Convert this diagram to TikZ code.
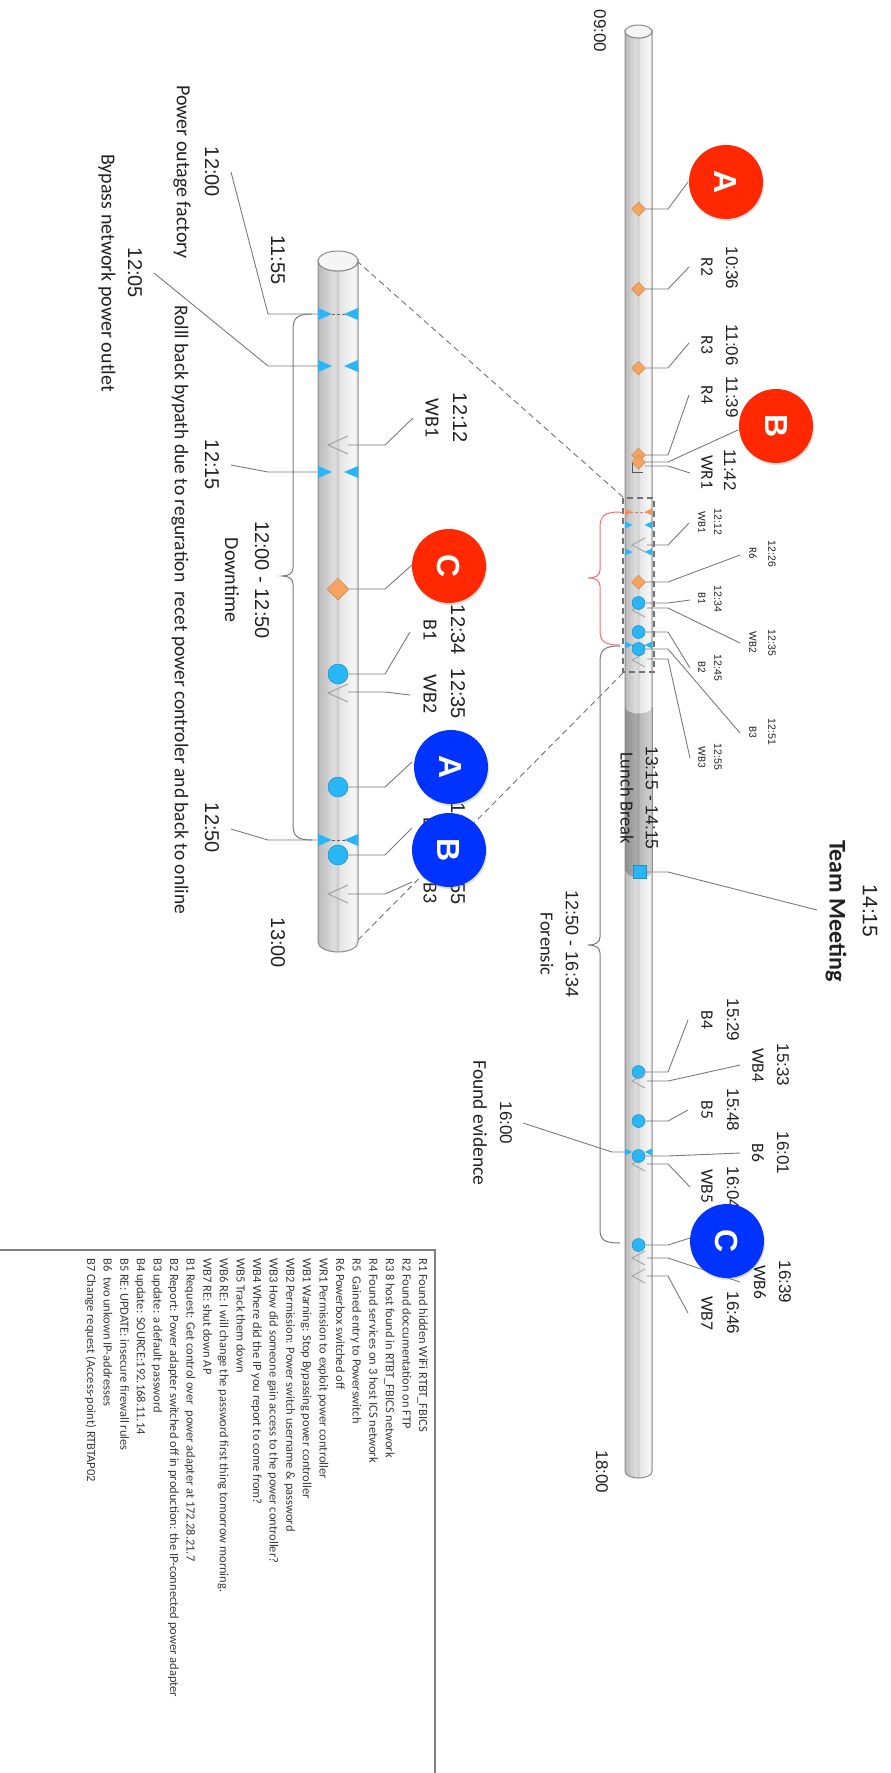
\documentclass[tikz,border=0pt]{standalone}
\usepackage{fontspec}
\setmainfont{Carlito}
\newfontfamily\tmfont{Liberation Sans}
\usetikzlibrary{shapes.geometric,shadows}
\newcommand\fsz[1]{\fontsize{#1}{#1}\selectfont}
\definecolor{ink}{HTML}{222222}
\definecolor{legendink}{HTML}{3A3A3A}
\definecolor{wiregray}{HTML}{7A7A7A}
\definecolor{redmark}{RGB}{255,40,0}
\definecolor{bluemark}{RGB}{0,51,255}
\definecolor{dotc}{HTML}{29B6F6}
\definecolor{dotedge}{HTML}{1C8FC8}
\definecolor{dia}{HTML}{F4A460}
\definecolor{diaedge}{HTML}{C98545}
\definecolor{bracered}{HTML}{FF6B6B}
\definecolor{tubeedge}{HTML}{8C8C8C}
\definecolor{veec}{HTML}{A3A3A3}
\definecolor{boxgray}{HTML}{808080}
\pgfdeclarehorizontalshading{tube}{100bp}{color(0bp)=(black!27); color(25bp)=(black!27); color(45bp)=(black!13); color(50bp)=(black!19); color(52bp)=(black!10); color(70bp)=(black!3); color(75bp)=(black!12); color(100bp)=(black!12)}
\pgfdeclarehorizontalshading{tubedark}{100bp}{color(0bp)=(black!44); color(25bp)=(black!44); color(45bp)=(black!33); color(50bp)=(black!38); color(52bp)=(black!28); color(70bp)=(black!19); color(75bp)=(black!27); color(100bp)=(black!27)}
\pgfdeclarelayer{tube}
\pgfdeclarelayer{wires}
\pgfsetlayers{tube,wires,main}
\begin{document}
\begin{tikzpicture}[x=1pt,y=-1pt,
  wire/.style={draw=wiregray, line width=0.9pt},
  txt/.style={rotate=-90, inner sep=0pt, text=ink},
  tmM/.style={txt, font=\tmfont\fsz{17}},
  lbM/.style={txt, font=\fsz{17.5}},
  tmT/.style={txt, font=\tmfont\fsz{10.5}},
  lbT/.style={txt, font=\fsz{11}},
  tmS/.style={txt, font=\tmfont\fsz{20}},
  lbS/.style={txt, font=\fsz{20}},
  dotM/.style={circle, fill=dotc, draw=dotedge, line width=0.5pt, inner sep=0pt, minimum size=13pt},
  dotS/.style={dotM, minimum size=20pt},
  diaM/.style={diamond, aspect=1, fill=dia, draw=diaedge, line width=0.5pt, inner sep=0pt, minimum width=14pt, minimum height=14pt},
  diaS/.style={diaM, minimum width=22pt, minimum height=22pt},
  bigc/.style={circle, inner sep=0pt, minimum size=74pt, rotate=-90, font=\tmfont\bfseries\fsz{32}, text=white,
    drop shadow={opacity=0.25, shadow xshift=1pt, shadow yshift=-2pt}},
  redc/.style={bigc, fill=redmark},
  bluec/.style={bigc, fill=bluemark},
  veeM/.pic={\draw[veec, line width=0.9pt] (13,-7) -- (0,0) -- (13,7);},
  veeS/.pic={\draw[veec, line width=1pt] (20,-9) -- (0,0) -- (20,9);},
  triM/.pic={\fill[dotc] (-13.5,-3.5) -- (-6,0) -- (-13.5,3.5) -- cycle;
             \fill[dotc] (13.5,-3.5) -- (6,0) -- (13.5,3.5) -- cycle;},
  triMo/.pic={\fill[dia!90!red] (-13.5,-3.5) -- (-6,0) -- (-13.5,3.5) -- cycle;
             \fill[dia!90!red] (13.5,-3.5) -- (6,0) -- (13.5,3.5) -- cycle;},
  triS/.pic={\fill[dotc] (-20,-6) -- (-6,0) -- (-20,6) -- cycle;
             \fill[dotc] (20,-6) -- (6,0) -- (20,6) -- cycle;},
]
\useasboundingbox (0,0) rectangle (891,1773);

% ---------------- tubes ----------------
\begin{pgfonlayer}{tube}
  % main day tube
  \draw[shading=tube, draw=tubeedge, line width=1pt] (625,31.5) -- (625,1471.5)
     arc[start angle=180,end angle=0,x radius=13.5,y radius=6.5] -- (652,31.5)
     arc[start angle=0,end angle=180,x radius=13.5,y radius=6.5] -- cycle;
  \draw[fill=black!4, draw=tubeedge, line width=1pt] (638.5,31.5) ellipse[x radius=13.5,y radius=6.5];
  % lunch segment
  \path[shading=tubedark] (625,707) -- (625,871)
     arc[start angle=180,end angle=0,x radius=13.5,y radius=6.5] -- (652,707)
     arc[start angle=0,end angle=180,x radius=13.5,y radius=6.5] -- cycle;
  \draw[tubeedge, line width=1pt] (625,707) -- (625,871) (652,707) -- (652,871);
  \draw[black!22, line width=0.8pt] (625,871) arc[start angle=180,end angle=0,x radius=13.5,y radius=6.5];
  % zoomed tube 11:55 - 13:00
  \draw[shading=tube, draw=tubeedge, line width=1pt] (318,261) -- (318,942)
     arc[start angle=180,end angle=0,x radius=20,y radius=10] -- (358,261)
     arc[start angle=0,end angle=180,x radius=20,y radius=10] -- cycle;
  \draw[fill=black!4, draw=tubeedge, line width=1pt] (338,261) ellipse[x radius=20,y radius=10];
\end{pgfonlayer}

% zoom frame and its projection lines
\draw[black!55, line width=1.1pt, dash pattern=on 6pt off 4pt] (623,498) rectangle (654,672);
\coordinate (zTL) at (623,497);
\coordinate (zBL) at (623,673);
\coordinate (sTR) at (358,262);
\coordinate (sBR) at (358,940);
\draw[black!55, line width=0.9pt, dash pattern=on 6pt off 4pt] (zTL) -- (sTR);
\draw[black!55, line width=0.9pt, dash pattern=on 6pt off 4pt] (zBL) -- (sBR);

% elbow columns
\coordinate (kM) at (668,0);
\coordinate (kML) at (612,0);
\coordinate (kS) at (385,0);
\coordinate (kSL) at (268,0);

% ---------------- main tube markers ----------------
\node[diaM] (r1) at (638.5,209) {};
\node[diaM] (r2) at (638.5,289) {};
\node[diaM] (r3) at (638.5,368) {};
\node[diaM] (r4) at (638.5,455) {};
\node[diaM] (r5) at (638.5,462) {};
\draw[ink!75, line width=0.9pt] (632,463) -- (632,472) -- (643,472);
\coordinate (wr1) at (645,466);

\pic at (638.5,512) {triMo};
\draw[bracered, line width=0.9pt, dash pattern=on 3pt off 2pt] (620,512) -- (646,512);
\pic at (638.5,525) {triM};
\pic at (632,545) {veeM};
\coordinate (wb1) at (647,545);
\pic at (638.5,552) {triM};
\node[diaM] (r6) at (638.5,582) {};
\pic at (632,610) {veeM};
\coordinate (wb2) at (647,608);
\node[dotM] (b1) at (638.5,603) {};
\node[dotM] (b2) at (638.5,632) {};
\pic at (638.5,645) {triM};
\draw[ink!70, line width=0.8pt, dash pattern=on 2pt off 2pt] (632,645) -- (645,645);
\pic at (632,660) {veeM};
\coordinate (wb3) at (647,659);
\node[dotM] (b3) at (638.5,649) {};

\node[rectangle, fill=dotc, draw=dotedge, line width=0.5pt, minimum size=13pt, inner sep=0pt] (tmeet) at (639.5,872) {};

\node[dotM] (b4) at (638.5,1072) {};
\pic at (632,1081) {veeM};
\coordinate (wb4) at (647,1081);
\node[dotM] (b5) at (638.5,1121) {};
\pic at (638.5,1152) {triM};
\coordinate (ev) at (627,1152);
\pic at (632,1164) {veeM};
\coordinate (wb5) at (647,1164);
\node[dotM] (b6) at (638.5,1156) {};
\node[dotM] (b7) at (638.5,1245) {};
\pic at (632,1258) {veeM};
\coordinate (wb6) at (647,1258);
\pic at (632,1276) {veeM};
\coordinate (wb7) at (647,1276);

% braces beside the main tube
\draw[bracered, line width=1pt] (620,512) .. controls (604,512) and (600,516) .. (600,528)
   -- (600,570) .. controls (600,575) and (596,578) .. (588,578)
   .. controls (596,578) and (600,581) .. (600,586) -- (600,630)
   .. controls (600,641) and (604,645) .. (620,645);
\draw[wiregray, line width=1pt] (620,646) .. controls (604,646) and (600,650) .. (600,662)
   -- (600,937) .. controls (600,942) and (596,945) .. (588,945)
   .. controls (596,945) and (600,948) .. (600,953) -- (600,1229)
   .. controls (600,1240) and (604,1243) .. (620,1243);

% ---------------- zoomed tube markers ----------------
\pic at (338,314) {triS};
\draw[ink!70, line width=0.9pt, dash pattern=on 3pt off 2pt] (332,314) -- (346,314);
\coordinate (s1200) at (318,314);
\pic at (338,366) {triS};
\coordinate (s1205) at (318,366);
\pic at (328,445) {veeS};
\coordinate (swb1) at (348,445);
\pic at (338,472) {triS};
\coordinate (s1215) at (318,472);
\node[diaS] (sr6) at (338,589) {};
\node[dotS] (sb1) at (338,674) {};
\pic at (328,693) {veeS};
\coordinate (swb2) at (348,692);
\node[dotS] (sb2) at (338,787) {};
\pic at (338,840) {triS};
\draw[ink!70, line width=0.9pt, dash pattern=on 3pt off 2pt] (332,840) -- (346,840);
\coordinate (s1250) at (318,840);
\node[dotS] (sb3) at (338,855) {};
\pic at (328,894) {veeS};
\coordinate (swb3) at (348,894);

\draw[wiregray, line width=1pt] (312,314) .. controls (297,314) and (293,318) .. (293,330)
   -- (293,568) .. controls (293,573) and (289,576) .. (282,576)
   .. controls (289,576) and (293,579) .. (293,584) -- (293,824)
   .. controls (293,836) and (297,840) .. (312,840);

% ---------------- leader ends ----------------
\coordinate (eR1) at (688,182);
\coordinate (eR2) at (689,267);
\coordinate (eR3) at (689,343);
\coordinate (eR4) at (689,395);
\coordinate (eR5) at (738,430);
\coordinate (eWR1) at (690,473);
\coordinate (eWB1) at (689,523);
\coordinate (eR6) at (740,555);
\coordinate (eB1) at (690,600);
\coordinate (eWB2) at (740,643);
\coordinate (eB2) at (690,668);
\coordinate (eB3) at (740,733);
\coordinate (eWB3) at (690,758);
\coordinate (eTM) at (817,910);
\coordinate (eB4) at (688,1020);
\coordinate (eWB4) at (740,1065);
\coordinate (eB5) at (688,1110);
\coordinate (eEv) at (523,1123);
\coordinate (eB6) at (740,1153);
\coordinate (eWB5) at (690,1187);
\coordinate (eB7) at (690,1238);
\coordinate (eWB6) at (740,1282);
\coordinate (eWB7) at (688,1313);
\coordinate (eS1200) at (231,172);
\coordinate (eS1205) at (154,273);
\coordinate (eSWB1) at (413,418);
\coordinate (eS1215) at (231,465);
\coordinate (eSR6) at (412,565);
\coordinate (eSB1) at (410,632);
\coordinate (eSWB2) at (410,695);
\coordinate (eSB2) at (412,762);
\coordinate (eS1250) at (231,829);
\coordinate (eSB3) at (412,828);
\coordinate (eSWB3) at (412,882);

\begin{pgfonlayer}{wires}
  \draw[wire] (r1) -- (r1 -| kM) -- (eR1);
  \draw[wire] (r2) -- (r2 -| kM) -- (eR2);
  \draw[wire] (r3) -- (r3 -| kM) -- (eR3);
  \draw[wire] (r4) -- (r4 -| kM) -- (eR4);
  \draw[wire] (r5) -- (r5 -| kM) -- (eR5);
  \draw[wire] (wr1) -- (wr1 -| kM) -- (eWR1);
  \draw[wire] (wb1) -- (wb1 -| kM) -- (eWB1);
  \draw[wire] (r6) -- (r6 -| kM) -- (eR6);
  \draw[wire] (b1) -- (b1 -| kM) -- (eB1);
  \draw[wire] (wb2) -- (wb2 -| kM) -- (eWB2);
  \draw[wire] (b2) -- (b2 -| kM) -- (eB2);
  \draw[wire] (b3) -- (b3 -| kM) -- (eB3);
  \draw[wire] (wb3) -- (wb3 -| kM) -- (eWB3);
  \draw[wire] (tmeet) -- (tmeet -| kM) -- (eTM);
  \draw[wire] (b4) -- (b4 -| kM) -- (eB4);
  \draw[wire] (wb4) -- (wb4 -| kM) -- (eWB4);
  \draw[wire] (b5) -- (b5 -| kM) -- (eB5);
  \draw[wire] (ev) -- (ev -| kML) -- (eEv);
  \draw[wire] (b6) -- (b6 -| kM) -- (eB6);
  \draw[wire] (wb5) -- (wb5 -| kM) -- (eWB5);
  \draw[wire] (b7) -- (b7 -| kM) -- (eB7);
  \draw[wire] (wb6) -- (wb6 -| kM) -- (eWB6);
  \draw[wire] (wb7) -- (wb7 -| kM) -- (eWB7);
  \draw[wire] (s1200) -- (s1200 -| kSL) -- (eS1200);
  \draw[wire] (s1205) -- (s1205 -| kSL) -- (eS1205);
  \draw[wire] (swb1) -- (swb1 -| kS) -- (eSWB1);
  \draw[wire] (s1215) -- (s1215 -| kSL) -- (eS1215);
  \draw[wire] (sr6) -- (sr6 -| kS) -- (eSR6);
  \draw[wire] (sb1) -- (sb1 -| kS) -- (eSB1);
  \draw[wire] (swb2) -- (swb2 -| kS) -- (eSWB2);
  \draw[wire] (sb2) -- (sb2 -| kS) -- (eSB2);
  \draw[wire] (s1250) -- (s1250 -| kSL) -- (eS1250);
  \draw[wire] (sb3) -- (sb3 -| kS) -- (eSB3);
  \draw[wire] (swb3) -- (swb3 -| kS) -- (eSWB3);
\end{pgfonlayer}

% ---------------- labels, main tube ----------------
\node[tmM] (t0900) at (600,31) {09:00};
\node[tmM] (t1800) at (602,1472) {18:00};
\node[lbM] (lR2) at (707,267) {R2};
\node[tmM] (tR2) at (732,268) {10:36};
\node[lbM] (lR3) at (707,345) {R3};
\node[tmM] (tR3) at (732,345) {11:06};
\node[lbM] (lR4) at (707,395) {R4};
\node[tmM] (tR4) at (732,397) {11:39};
\node[lbM] (lWR1) at (707,472) {WR1};
\node[tmM] (tWR1) at (730,470) {11:42};
\node[lbT] (lWB1) at (702,522) {WB1};
\node[tmT] (tWB1) at (718,522) {12:12};
\node[lbT] (lR6) at (753,553) {R6};
\node[tmT] (tR6) at (772,554) {12:26};
\node[lbT] (lB1) at (702,598) {B1};
\node[tmT] (tB1) at (718,599) {12:34};
\node[lbT] (lWB2) at (753,642) {WB2};
\node[tmT] (tWB2) at (772,643) {12:35};
\node[lbT] (lB2) at (702,667) {B2};
\node[tmT] (tB2) at (718,668) {12:45};
\node[lbT] (lB3) at (753,732) {B3};
\node[tmT] (tB3) at (772,732) {12:51};
\node[lbT] (lWB3) at (702,757) {WB3};
\node[tmT] (tWB3) at (718,757) {12:55};
\node[txt, font=\fsz{18.5}] (lunch) at (627,798) {Lunch Break};
\node[txt, font=\tmfont\fsz{17.5}] (tlunch) at (652,798) {13:15 - 14:15};
\node[txt, font=\bfseries\fsz{24}] (lTM) at (836,911) {Team Meeting};
\node[txt, font=\tmfont\fsz{21}] (tTM) at (870,911) {14:15};
\node[txt, font=\tmfont\fsz{18}] (tFor) at (572,944) {12:50 - 16:34};
\node[txt, font=\fsz{18.5}] (lFor) at (547,944) {Forensic};
\node[lbM] (lB4) at (707,1020) {B4};
\node[tmM] (tB4) at (733,1020) {15:29};
\node[lbM] (lWB4) at (758,1065) {WB4};
\node[tmM] (tWB4) at (783,1065) {15:33};
\node[lbM] (lB5) at (707,1110) {B5};
\node[tmM] (tB5) at (733,1110) {15:48};
\node[tmM] (tEv) at (506,1123) {16:00};
\node[txt, font=\fsz{19.5}] (lEv) at (480,1123) {Found evidence};
\node[lbM] (lB6) at (758,1153) {B6};
\node[tmM] (tB6) at (783,1153) {16:01};
\node[lbM] (lWB5) at (707,1186) {WB5};
\node[tmM] (tWB5) at (733,1188) {16:04};
\node[lbM] (lWB6) at (760,1282) {WB6};
\node[tmM] (tWB6) at (785,1282) {16:39};
\node[lbM] (lWB7) at (707,1313) {WB7};
\node[tmM] (tWB7) at (733,1313) {16:46};

% ---------------- labels, zoomed tube ----------------
\node[tmS] (t1155) at (278,260) {11:55};
\node[tmS] (t1200) at (212,172) {12:00};
\node[lbS] (l1200) at (182,172) {Power outage factory};
\node[tmS] (t1205) at (135,273) {12:05};
\node[lbS] (l1205) at (107,273) {Bypass network power outlet};
\node[txt, font=\fsz{19.5}, anchor=west] (l1215) at (180,305) {Rolll back bypath due to reguration~~recet power controler and back to online};
\node[tmS] (t1215) at (212,465) {12:15};
\node[tmS] (tDown) at (262,580) {12:00 - 12:50};
\node[lbS] (lDown) at (232,580) {Downtime};
\node[tmS] (t1250) at (212,828) {12:50};
\node[tmS] (t1300) at (278,943) {13:00};
\node[lbS] (lSWB1) at (432,418) {WB1};
\node[tmS] (tSWB1) at (460,418) {12:12};
\node[lbS] (lSB1) at (430,630) {B1};
\node[tmS] (tSB1) at (458,630) {12:34};
\node[lbS] (lSWB2) at (430,694) {WB2};
\node[tmS] (tSWB2) at (458,694) {12:35};
\node[lbS] (lSB3) at (430,828) {B3};
\node[tmS] (tSB3) at (458,828) {12:51};
\node[lbS] (lSWB3) at (430,884) {WB3};
\node[tmS] (tSWB3) at (458,880) {12:55};

% ---------------- phase badges ----------------
\node[redc] (cA1) at (726,182) {A};
\node[redc] (cB1) at (776,426) {B};
\node[bluec] (cC1) at (727,1241) {C};
\node[redc] (cCs) at (449,566) {C};
\node[bluec] (cAs) at (451,767) {A};
\node[bluec] (cBs) at (449,850) {B};

% ---------------- legend ----------------
\draw[boxgray, line width=1.2pt] (-5,1250) -- (435,1250) -- (435,1790);
\node[rotate=-90, anchor=north west, inner sep=0pt, align=left, text=legendink,
      font=\fontsize{12.5}{16.6}\selectfont] (legend) at (428,1258) {%
R1 Found hidden WiFi RTBT\_FBICS\\
R2 Found doccumentation on FTP\\
R3 8 host found in RTBT\_FBICS network\\
R4 Found services on 3 host ICS network\\
R5~ Gained entry to Powerswitch\\
R6 Powerbox switched off\\
WR1 Permission to exploit power controller\\
WB1 Warning: Stop Bypassing power controller\\
WB2 Permission: Power switch username \& password\\
WB3 How did someone gain access to the power controller?\\
WB4 Where did the IP you report to come from?\\
WB5 Track them down\\
WB6 RE: I will change the password first thing tomorrow morning.\\
WB7 RE: shut down AP\\
B1 Request: Get control over~ power adapter at 172.28.21.7\\
B2 Report: Power adapter switched off in production: the IP-connected power adapter\\
B3 update: a default password\\
B4 update: SOURCE:192.168.11.14\\
B5 RE: UPDATE: insecure firewall rules\\
B6~ two unkown IP-addresses\\
B7 Change request (Access-point) RTBTAP02};
\end{tikzpicture}
\end{document}
